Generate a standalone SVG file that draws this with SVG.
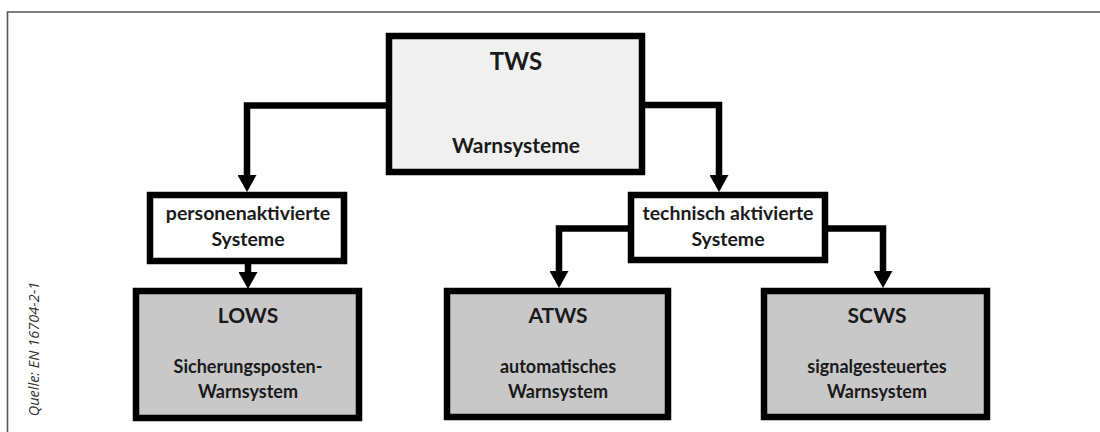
<svg xmlns="http://www.w3.org/2000/svg" width="1100" height="432" viewBox="0 0 1100 432">
<defs>
<style>
.box{stroke:#000;stroke-width:6.5;}
.top{fill:#f0f0f0;}
.mid{fill:#ffffff;}
.leaf{fill:#c8c8c8;}
.t{font-family:Lato,"Open Sans","Liberation Sans",sans-serif;font-weight:bold;fill:#1a1a1a;text-anchor:middle;}
.big{font-size:24px;}
.sub{font-size:21px;}
.mt{font-size:19.5px;}
.hd{font-size:21px;}
.sm{font-size:18px;}
.conn{fill:none;stroke:#000;stroke-width:6.5;stroke-linejoin:miter;}
.src{font-family:"Open Sans","Liberation Sans",sans-serif;font-style:italic;font-size:14.5px;fill:#333;}
</style>
<marker id="arr" markerUnits="userSpaceOnUse" viewBox="0 0 17 19" markerWidth="17" markerHeight="19" refX="0" refY="9.5" orient="auto">
<path d="M0,0 L17,9.5 L0,19 z" fill="#000"/>
</marker>
</defs>
<rect width="1100" height="432" fill="#fff"/>
<g id="frame">
<path d="M7.5,432 V12 H1100" fill="none" stroke="#555" stroke-width="1.6"/>
<text class="src" transform="translate(39,349) rotate(-90)" text-anchor="middle">Quelle: EN 16704-2-1</text>
</g>
<g id="connectors">
<path class="conn" d="M389,105.5 H247 V175" marker-end="url(#arr)"/>
<path class="conn" d="M642,105 H719 V175" marker-end="url(#arr)"/>
<path class="conn" d="M248,264 V272" marker-end="url(#arr)"/>
<path class="conn" d="M631,228.5 H559 V271" marker-end="url(#arr)"/>
<path class="conn" d="M825,228.5 H883 V271" marker-end="url(#arr)"/>
</g>
<g id="tws">
<rect class="box top" x="389" y="36" width="253" height="136"/>
<text class="t big" x="516" y="70">TWS</text>
<text class="t sub" x="516" y="153">Warnsysteme</text>
</g>
<g id="personen">
<rect class="box mid" x="150" y="195" width="194" height="66"/>
<text class="t mt" x="248" y="220">personenaktivierte</text>
<text class="t mt" x="248" y="246">Systeme</text>
</g>
<g id="technisch">
<rect class="box mid" x="631" y="195" width="194" height="65"/>
<text class="t mt" x="728" y="220">technisch aktivierte</text>
<text class="t mt" x="728" y="246">Systeme</text>
</g>
<g id="lows">
<rect class="box leaf" x="136" y="291" width="223" height="127"/>
<text class="t hd" x="248" y="323">LOWS</text>
<text class="t sm" x="248" y="373">Sicherungsposten-</text>
<text class="t sm" x="248" y="398">Warnsystem</text>
</g>
<g id="atws">
<rect class="box leaf" x="447" y="291" width="221" height="126"/>
<text class="t hd" x="558" y="323">ATWS</text>
<text class="t sm" x="558" y="373">automatisches</text>
<text class="t sm" x="558" y="398">Warnsystem</text>
</g>
<g id="scws">
<rect class="box leaf" x="764" y="291" width="223" height="126"/>
<text class="t hd" x="877" y="323">SCWS</text>
<text class="t sm" x="877" y="373">signalgesteuertes</text>
<text class="t sm" x="877" y="398">Warnsystem</text>
</g>
</svg>
